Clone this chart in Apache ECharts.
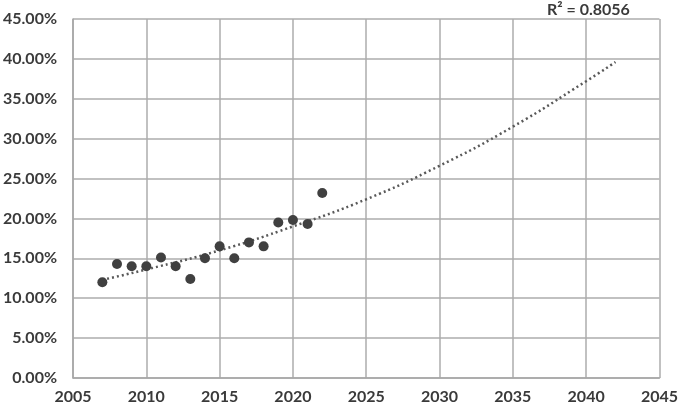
<!DOCTYPE html>
<html>
<head>
<meta charset="utf-8">
<script src="https://cdn.jsdelivr.net/npm/echarts@6/dist/echarts.min.js"></script>
<style>
  html, body { margin: 0; padding: 0; background: #fff; }
  #main { width: 681px; height: 409px; }
</style>
</head>
<body>
<div id="main"></div>
<script>
// observed points (year, share %)
const years = [2007, 2008, 2009, 2010, 2011, 2012, 2013, 2014, 2015, 2016, 2017, 2018, 2019, 2020, 2021, 2022];
const shares = [12.0, 14.3, 14.0, 14.0, 15.1, 14.0, 12.4, 15.0, 16.5, 15.0, 17.0, 16.5, 19.5, 19.8, 19.3, 23.2];

// trendline
const trendYears = [2007, 2010, 2015, 2020, 2025, 2030, 2035, 2040, 2042];
const trendValues = [12.3, 13.6, 16.0, 19.0, 22.4, 26.6, 31.5, 37.2, 39.6];

const r2Label = "R² = 0.8056";

const chart = echarts.init(document.getElementById("main"));

const font = "Lato, 'Open Sans', sans-serif";
const textColor = "#3a3a3a";

chart.setOption({
  animation: false,
  title: {
    text: r2Label,
    left: 542,
    top: -3,
    textStyle: { fontFamily: font, fontSize: 16, fontWeight: "bold", color: textColor },
  },
  grid: {
    left: 72,
    right: 17,
    top: 19,
    bottom: 31,
    containLabel: false,
  },
  xAxis: {
    type: "value",
    min: 2005,
    max: 2045,
    interval: 5,
    axisLine: { show: true, lineStyle: { color: "#a6a6a6", width: 1.5 } },
    axisTick: { show: false },
    axisLabel: {
      margin: 11,
      fontFamily: font,
      fontSize: 16,
      fontWeight: "bold",
      color: textColor,
      formatter: (v) => String(v),
    },
    splitLine: { show: true, lineStyle: { color: "#adadad", width: 1.5 } },
  },
  yAxis: {
    type: "value",
    min: 0,
    max: 45,
    interval: 5,
    axisLine: { show: true, lineStyle: { color: "#a6a6a6", width: 1.5 } },
    axisTick: { show: false },
    axisLabel: {
      margin: 16,
      fontFamily: font,
      fontSize: 16,
      fontWeight: "bold",
      color: textColor,
      formatter: (v) => v.toFixed(2) + "%",
    },
    splitLine: { show: true, lineStyle: { color: "#adadad", width: 1.5 } },
  },
  series: [
    {
      name: "trend",
      type: "line",
      smooth: true,
      showSymbol: false,
      data: trendYears.map((y, i) => [y, trendValues[i]]),
      lineStyle: { color: "#595959", width: 2.5, type: [2, 3] },
      z: 2,
    },
    {
      name: "share",
      type: "scatter",
      symbolSize: 10,
      data: years.map((y, i) => [y, shares[i]]),
      itemStyle: { color: "#404040", opacity: 1 },
      z: 3,
    },
  ],
});
</script>
</body>
</html>
